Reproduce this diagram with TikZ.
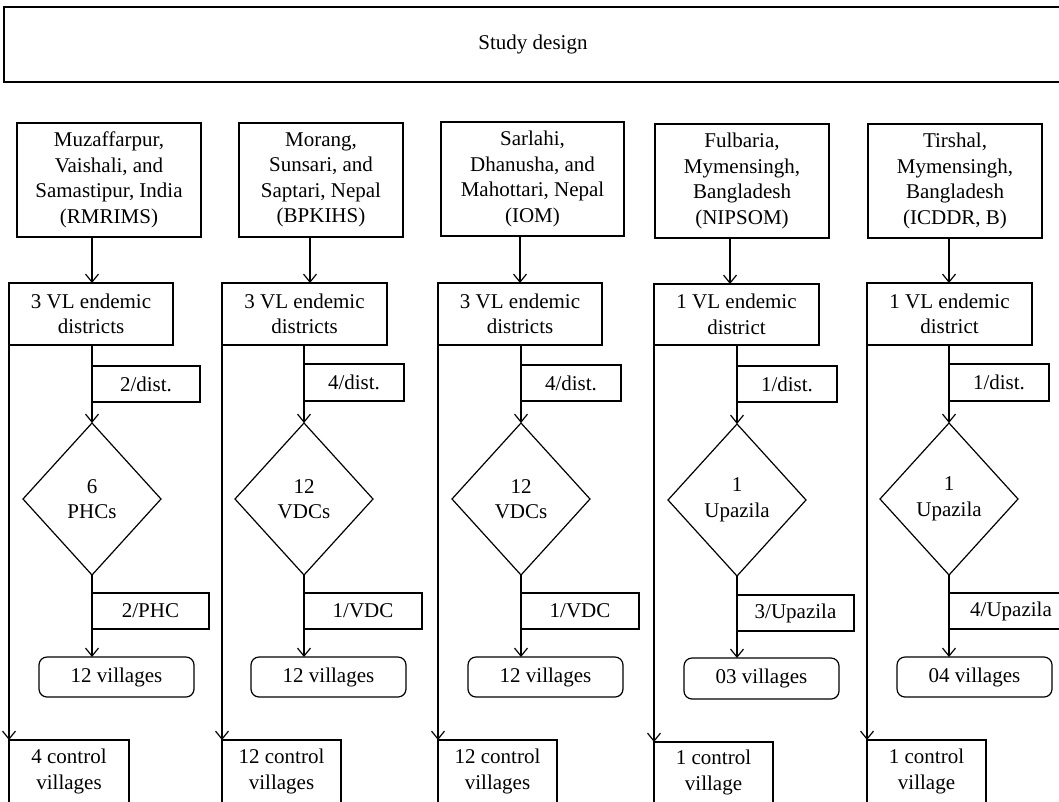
\documentclass[tikz,border=0pt]{standalone}
\usepackage{fontspec}
\setmainfont{Liberation Serif}
\usetikzlibrary{shapes.geometric,arrows.meta}
\begin{document}
\begin{tikzpicture}[x=1pt,y=-1pt,line width=1.2pt,
  every node/.style={font=\fontsize{21}{25.5}\selectfont, inner sep=0pt, outer sep=0pt},
  box/.style={draw, rectangle, align=center, anchor=north west},
  vill/.style={box, rounded corners=8pt},
  dia/.style={draw, diamond, align=center, minimum width=138pt, minimum height=152pt},
  arr/.style={-{Straight Barb[length=8pt,width=13pt]}}]
\useasboundingbox (0,0) rectangle (1059,801);
\clip (0,0) rectangle (1059,801);
\fill[white] (0,0) rectangle (1059,801);

\node[box,minimum width=1058pt,minimum height=75pt] (top) at (4,7) {Study design};

% column 1
\node[box,minimum width=184pt,minimum height=114pt] (t1) at (17,123) {Muzaffarpur,\\Vaishali, and\\Samastipur, India\\(RMRIMS)};
\node[box,minimum width=164pt,minimum height=62pt] (v1) at (9,283) {3 VL endemic\\districts};
\node[box,minimum width=108pt,minimum height=36pt] (r1) at (92,366) {2/dist.};
\node[dia] (d1) at (92,499) {6\\PHCs};
\node[box,minimum width=117pt,minimum height=36pt] (s1) at (92,593) {2/PHC};
\node[vill,minimum width=155pt,minimum height=40pt] (g1) at (39,657) {12 villages};
\node[box,minimum width=120pt,minimum height=63pt] (c1) at (9,740) {4 control\\villages};

% column 2
\node[box,minimum width=164pt,minimum height=114pt] (t2) at (239,123) {Morang,\\Sunsari, and\\Saptari, Nepal\\(BPKIHS)};
\node[box,minimum width=165pt,minimum height=62pt] (v2) at (222,283) {3 VL endemic\\districts};
\node[box,minimum width=100pt,minimum height=37pt] (r2) at (304,364) {4/dist.};
\node[dia] (d2) at (304,499) {12\\VDCs};
\node[box,minimum width=118pt,minimum height=36pt] (s2) at (304,593) {1/VDC};
\node[vill,minimum width=155pt,minimum height=40pt] (g2) at (251,657) {12 villages};
\node[box,minimum width=119pt,minimum height=63pt] (c2) at (222,740) {12 control\\villages};

% column 3
\node[box,minimum width=183pt,minimum height=114pt] (t3) at (441,122) {Sarlahi,\\Dhanusha, and\\Mahottari, Nepal\\(IOM)};
\node[box,minimum width=164pt,minimum height=62pt] (v3) at (438,283) {3 VL endemic\\districts};
\node[box,minimum width=100pt,minimum height=36pt] (r3) at (521,365) {4/dist.};
\node[dia] (d3) at (521,499) {12\\VDCs};
\node[box,minimum width=118pt,minimum height=36pt] (s3) at (521,593) {1/VDC};
\node[vill,minimum width=155pt,minimum height=40pt] (g3) at (468,657) {12 villages};
\node[box,minimum width=119pt,minimum height=63pt] (c3) at (438,740) {12 control\\villages};

% column 4
\node[box,minimum width=174pt,minimum height=114pt] (t4) at (655,124) {Fulbaria,\\Mymensingh,\\Bangladesh\\(NIPSOM)};
\node[box,minimum width=165pt,minimum height=61pt] (v4) at (654,284) {1 VL endemic\\district};
\node[box,minimum width=100pt,minimum height=36pt] (r4) at (737,366) {1/dist.};
\node[dia] (d4) at (737,500) {1\\Upazila};
\node[box,minimum width=117pt,minimum height=36pt] (s4) at (737,595) {3/Upazila};
\node[vill,minimum width=155pt,minimum height=41pt] (g4) at (684,658) {03 villages};
\node[box,minimum width=119pt,minimum height=61pt] (c4) at (654,742) {1 control\\village};

% column 5
\node[box,minimum width=174pt,minimum height=114pt] (t5) at (868,124) {Tirshal,\\Mymensingh,\\Bangladesh\\(ICDDR, B)};
\node[box,minimum width=165pt,minimum height=62pt] (v5) at (867,283) {1 VL endemic\\district};
\node[box,minimum width=100pt,minimum height=37pt] (r5) at (949,364) {1/dist.};
\node[dia] (d5) at (949,499) {1\\Upazila};
\node[box,minimum width=124pt,minimum height=36pt] (s5) at (949,593) {4/Upazila};
\node[vill,minimum width=155pt,minimum height=40pt] (g5) at (897,657) {04 villages};
\node[box,minimum width=119pt,minimum height=63pt] (c5) at (867,740) {1 control\\village};

% connectors
\foreach \i/\o in {1/75,2/71,3/79,4/75,5/81}{
  \draw[arr] ([xshift=\o pt]t\i.south west) -- ([xshift=\o pt]t\i.south west |- v\i.north);
  \draw[arr] (v\i.south -| d\i.north) -- (d\i.north);
  \draw[arr] (d\i.south) -- (g\i.north -| d\i.south);
  \draw[arr] (v\i.south west) -- (c\i.north west);
}
\end{tikzpicture}
\end{document}
